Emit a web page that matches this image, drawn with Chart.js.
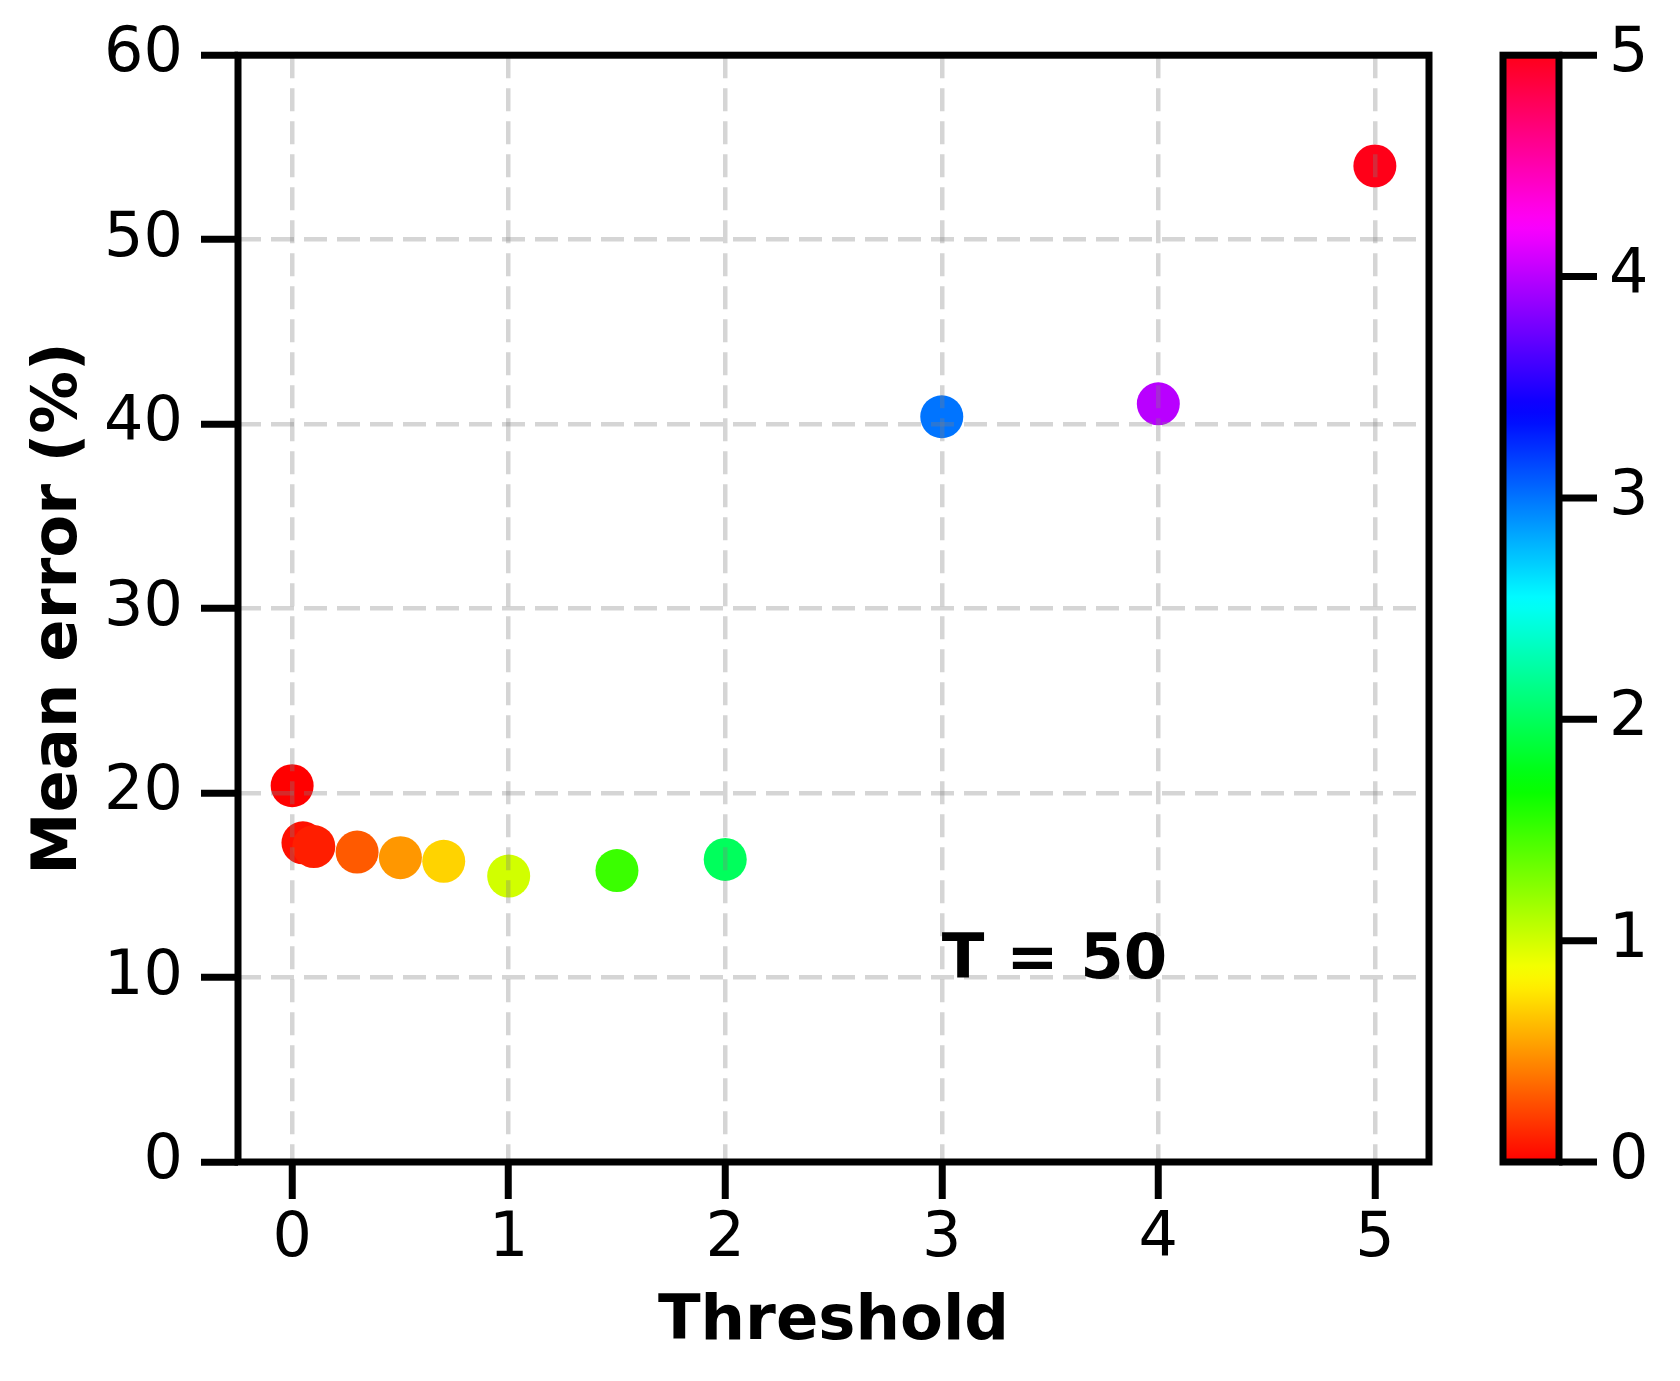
<!DOCTYPE html>
<html lang="en">
<head>
<meta charset="UTF-8">
<title>Mean error vs threshold</title>
<script src="https://cdn.jsdelivr.net/npm/chart.js"></script>
<style>
    html, body { margin: 0; padding: 0; background: #fff; }
    #wrap { width: 1680px; height: 1381px; }
</style>
</head>
<body>
<div id="wrap"><canvas id="errorChart" width="1680" height="1381"></canvas></div>
<script>
    // Threshold (x) and mean error in % (y)
    const thresholds = [0, 0.05, 0.1, 0.3, 0.5, 0.7, 1, 1.5, 2, 3, 4, 5];
    const meanError = [20.4, 17.3, 17.1, 16.8, 16.5, 16.3, 15.5, 15.8, 16.4, 40.4, 41.1, 54.0];

    // Axis ticks
    const xTicks = [0, 1, 2, 3, 4, 5];
    const yTicks = [0, 10, 20, 30, 40, 50, 60];

    // Colour bar (points are coloured by threshold)
    const colorbarTicks = [0, 1, 2, 3, 4, 5];
    const colorMin = 0;
    const colorMax = 5;

    // Text label inside the plot
    const annotationText = 'T = 50';
    const annotationX = 3;
    const annotationY = 10;

    // matplotlib "hsv" colormap segments
    const hsvSegments = {
        r: [[0, 1], [0.158730, 1], [0.174603, 0.96875], [0.333333, 0.03125], [0.349206, 0], [0.666667, 0], [0.682540, 0.03125], [0.841270, 0.96875], [0.857143, 1], [1, 1]],
        g: [[0, 0], [0.158730, 0.9375], [0.174603, 1], [0.507937, 1], [0.666667, 0.0625], [0.682540, 0], [1, 0]],
        b: [[0, 0], [0.333333, 0], [0.349206, 0.0625], [0.507937, 1], [0.841270, 1], [0.857143, 0.9375], [1, 0.09375]]
    };

    function segValue(seg, t) {
        for (let i = 1; i < seg.length; i++) {
            if (t <= seg[i][0]) {
                const [t0, v0] = seg[i - 1];
                const [t1, v1] = seg[i];
                return v0 + (v1 - v0) * (t - t0) / (t1 - t0);
            }
        }
        return seg[seg.length - 1][1];
    }

    function hsv(t) {
        t = Math.min(1, Math.max(0, t));
        const r = Math.round(255 * segValue(hsvSegments.r, t));
        const g = Math.round(255 * segValue(hsvSegments.g, t));
        const b = Math.round(255 * segValue(hsvSegments.b, t));
        return `rgb(${r}, ${g}, ${b})`;
    }

    const pointColors = thresholds.map(t => hsv((t - colorMin) / (colorMax - colorMin)));

    // Draws the box round the plot, the text label and the colour bar
    const framePlugin = {
        id: 'frame',
        afterDraw(chart) {
            const { ctx, chartArea: a, scales } = chart;
            ctx.save();
            ctx.lineWidth = 7;
            ctx.strokeStyle = '#000';
            ctx.strokeRect(a.left, a.top, a.right - a.left, a.bottom - a.top);

            ctx.fillStyle = '#000';
            ctx.font = 'bold 62.5px "DejaVu Sans"';
            ctx.textAlign = 'left';
            ctx.textBaseline = 'alphabetic';
            ctx.fillText(annotationText, scales.x.getPixelForValue(annotationX), scales.y.getPixelForValue(annotationY));

            const cb = scales.cb;
            const x0 = a.right + 74;
            const x1 = a.right + 130;
            const top = cb.getPixelForValue(colorMax);
            const bottom = cb.getPixelForValue(colorMin);
            const grad = ctx.createLinearGradient(0, bottom, 0, top);
            for (let i = 0; i <= 96; i++) {
                grad.addColorStop(i / 96, hsv(i / 96));
            }
            ctx.fillStyle = grad;
            ctx.fillRect(x0, top, x1 - x0, bottom - top);
            ctx.strokeRect(x0, top, x1 - x0, bottom - top);

            ctx.fillStyle = '#000';
            ctx.font = '62px "DejaVu Sans"';
            ctx.textBaseline = 'middle';
            colorbarTicks.forEach(v => {
                const y = cb.getPixelForValue(v);
                ctx.beginPath();
                ctx.moveTo(x1, y);
                ctx.lineTo(x1 + 38, y);
                ctx.stroke();
                ctx.fillText(String(v), x1 + 50, y);
            });
            ctx.restore();
        }
    };

    Chart.defaults.font.family = '"DejaVu Sans"';
    Chart.defaults.color = '#000';

    const gridStyle = {
        color: 'rgba(128, 128, 128, 0.33)',
        lineWidth: 4.5,
        tickLength: 37,
        tickWidth: 7,
        tickColor: '#000',
        z: 1
    };

    const ctxError = document.getElementById('errorChart').getContext('2d');
    new Chart(ctxError, {
        type: 'scatter',
        data: {
            datasets: [{
                label: 'Mean error',
                data: thresholds.map((t, i) => ({ x: t, y: meanError[i] })),
                xAxisID: 'x',
                yAxisID: 'y',
                backgroundColor: pointColors,
                borderWidth: 0,
                pointRadius: 21.5,
                pointHoverRadius: 21.5
            }]
        },
        options: {
            responsive: false,
            animation: false,
            devicePixelRatio: 1,
            events: [],
            layout: { padding: { left: 0, top: 53, right: 251, bottom: 0 } },
            plugins: {
                legend: { display: false },
                tooltip: { enabled: false }
            },
            scales: {
                x: {
                    type: 'linear',
                    min: -0.25,
                    max: 5.25,
                    afterBuildTicks: s => { s.ticks = xTicks.map(v => ({ value: v })); },
                    afterFit: s => { s.height = 219; },
                    grid: gridStyle,
                    border: { display: false, dash: [23, 10] },
                    ticks: { font: { size: 62 }, padding: 4, maxRotation: 0, autoSkip: false },
                    title: {
                        display: true,
                        text: 'Threshold',
                        font: { size: 62.5, weight: 'bold' },
                        padding: { top: 0, bottom: 21 }
                    }
                },
                y: {
                    type: 'linear',
                    min: 0,
                    max: 60,
                    afterBuildTicks: s => { s.ticks = yTicks.map(v => ({ value: v })); },
                    afterFit: s => { s.width = 238; },
                    grid: gridStyle,
                    border: { display: false, dash: [23, 10] },
                    ticks: { font: { size: 62 }, padding: 18, autoSkip: false },
                    title: {
                        display: true,
                        text: 'Mean error (%)',
                        font: { size: 62.5, weight: 'bold' },
                        padding: { top: 22, bottom: 0 }
                    }
                },
                cb: {
                    type: 'linear',
                    position: 'right',
                    display: false,
                    min: colorMin,
                    max: colorMax
                }
            }
        },
        plugins: [framePlugin]
    });
</script>
</body>
</html>
